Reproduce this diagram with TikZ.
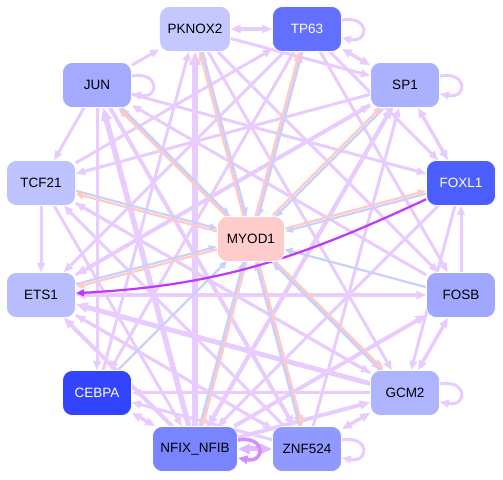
\documentclass[tikz,border=0pt]{standalone}
\usepackage{fontspec}
\setmainfont{Liberation Sans}
\usetikzlibrary{arrows.meta,backgrounds}
\definecolor{lilac}{RGB}{233,204,255}
\definecolor{deeplilac}{RGB}{224,184,255}
\definecolor{loopviolet}{RGB}{214,140,255}
\definecolor{edgeblue}{RGB}{200,208,255}
\definecolor{edgepeach}{RGB}{255,202,194}
\definecolor{hotpurple}{RGB}{190,55,255}
\definecolor{cPknox}{RGB}{197,200,255}
\definecolor{cTp}{RGB}{99,112,255}
\definecolor{cJun}{RGB}{163,170,255}
\definecolor{cSp}{RGB}{170,177,255}
\definecolor{cTcf}{RGB}{190,194,255}
\definecolor{cFoxl}{RGB}{77,94,255}
\definecolor{cMyod}{RGB}{255,204,204}
\definecolor{cEts}{RGB}{184,189,255}
\definecolor{cFosb}{RGB}{160,167,255}
\definecolor{cCebpa}{RGB}{51,68,255}
\definecolor{cGcm}{RGB}{174,180,255}
\definecolor{cNfix}{RGB}{120,133,255}
\definecolor{cZnf}{RGB}{144,153,255}
\tikzset{
  >={Triangle[length=5pt 1.4,width=4pt 1.2]},
  gene/.style={rectangle,rounded corners=10pt,fill=#1,draw=white,line width=0.6pt,
    minimum width=69pt,minimum height=45pt,inner xsep=8pt,
    font=\fontsize{13.5}{15}\selectfont},
  dark/.style={text=white},
  reg/.style={draw=lilac,line width=#1,->},
  reg/.default=3pt,
  both/.style={<->},
  tomyod/.style={draw=edgeblue,line width=2.2pt,->},
  frommyod/.style={draw=edgepeach,line width=2.2pt,->},
  selfloop/.style={reg=#1,to path={([yshift=9pt]\tikztostart.east)
    .. controls +(28pt,5pt) and +(28pt,-5pt) .. ([yshift=-9pt]\tikztostart.east)}},
  selfloop/.default=3pt
}

\begin{document}
\begin{tikzpicture}[x=1pt,y=1pt]
  \useasboundingbox (0,0) rectangle (503,479);
  \node[gene=cPknox] (pknox) at (195,450) {PKNOX2};
  \node[gene=cTp,dark] (tp) at (307,450) {TP63};
  \node[gene=cJun] (jun) at (97,394) {JUN};
  \node[gene=cSp] (sp) at (405,394) {SP1};
  \node[gene=cTcf] (tcf) at (41,296) {TCF21};
  \node[gene=cFoxl,dark] (foxl) at (461,296) {FOXL1};
  \node[gene=cMyod,minimum width=67pt] (myod) at (251,240) {MYOD1};
  \node[gene=cEts] (ets) at (41,184) {ETS1};
  \node[gene=cFosb] (fosb) at (461,184) {FOSB};
  \node[gene=cCebpa,dark] (cebpa) at (97,86) {CEBPA};
  \node[gene=cGcm] (gcm) at (405,86) {GCM2};
  \node[gene=cNfix] (nfix) at (195,30) {NFIX\_NFIB};
  \node[gene=cZnf] (znf) at (307,30) {ZNF524};

  \begin{scope}[on background layer]
  % regulation among the ring
  \foreach \a/\b in {jun/cebpa,tcf/ets,jun/tcf,jun/pknox,pknox/gcm,pknox/fosb,pknox/sp,
      tp/foxl,tp/fosb,tp/ets,tp/cebpa,sp/tcf,foxl/nfix,gcm/tcf,gcm/jun,
      znf/ets,znf/tcf,znf/sp,znf/pknox,tcf/nfix,tcf/tp,cebpa/pknox,gcm/cebpa,
      znf/cebpa,jun/foxl,fosb/jun,foxl/gcm,ets/znf,ets/sp,tcf/gcm,fosb/foxl}
    \draw[reg] (\a) -- (\b);
  \foreach \a/\b in {jun/znf,jun/gcm,pknox/znf,sp/ets,sp/nfix,nfix/sp,nfix/fosb,
      nfix/gcm,nfix/ets,nfix/tp}
    \draw[reg=4pt] (\a) -- (\b);
  \foreach \a/\b in {pknox/tp,tp/sp,sp/foxl,fosb/gcm,gcm/znf,cebpa/nfix,ets/fosb}
    \draw[reg=3.5pt,both] (\a) -- (\b);
  \draw[reg=6pt] (nfix) -- (pknox);
  \draw[reg=5.5pt] (nfix) -- (jun);
  \draw[reg=5pt] (gcm) -- (ets);
  \draw[reg=5pt,draw=deeplilac,both] (znf) -- (nfix);

  \foreach \n in {tp,jun,sp,gcm,znf}
    \draw[selfloop] (\n) to (\n);
  \draw[selfloop=3.5pt,draw=loopviolet] (nfix) to (nfix);

  % links with MYOD1
  \foreach \n/\px/\py in {pknox/195/450,tp/307/450,jun/97/394,sp/405/394,tcf/41/296,
      foxl/461/296,ets/41/184,fosb/461/184,cebpa/97/86,gcm/405/86,nfix/195/30,znf/307/30}{
    \pgfmathsetmacro\dx{251-\px}
    \pgfmathsetmacro\dy{240-\py}
    \pgfmathsetmacro\len{veclen(\dx,\dy)}
    \pgfmathsetmacro\sx{-1.4*\dy/\len}
    \pgfmathsetmacro\sy{1.4*\dx/\len}
    \draw[tomyod,transform canvas={shift={(\sx,\sy)}}] (\n) -- (myod);
  }
  \foreach \n/\px/\py in {pknox/195/450,tp/307/450,jun/97/394,sp/405/394,tcf/41/296,
      foxl/461/296,ets/41/184,gcm/405/86,nfix/195/30,znf/307/30}{
    \pgfmathsetmacro\dx{251-\px}
    \pgfmathsetmacro\dy{240-\py}
    \pgfmathsetmacro\len{veclen(\dx,\dy)}
    \pgfmathsetmacro\sx{1.4*\dy/\len}
    \pgfmathsetmacro\sy{-1.4*\dx/\len}
    \draw[frommyod,transform canvas={shift={(\sx,\sy)}}] (myod) -- (\n);
  }

  \draw[draw=hotpurple,line width=2.2pt,->] (foxl) to[out=205,in=3] (ets);
  \end{scope}
\end{tikzpicture}
\end{document}
